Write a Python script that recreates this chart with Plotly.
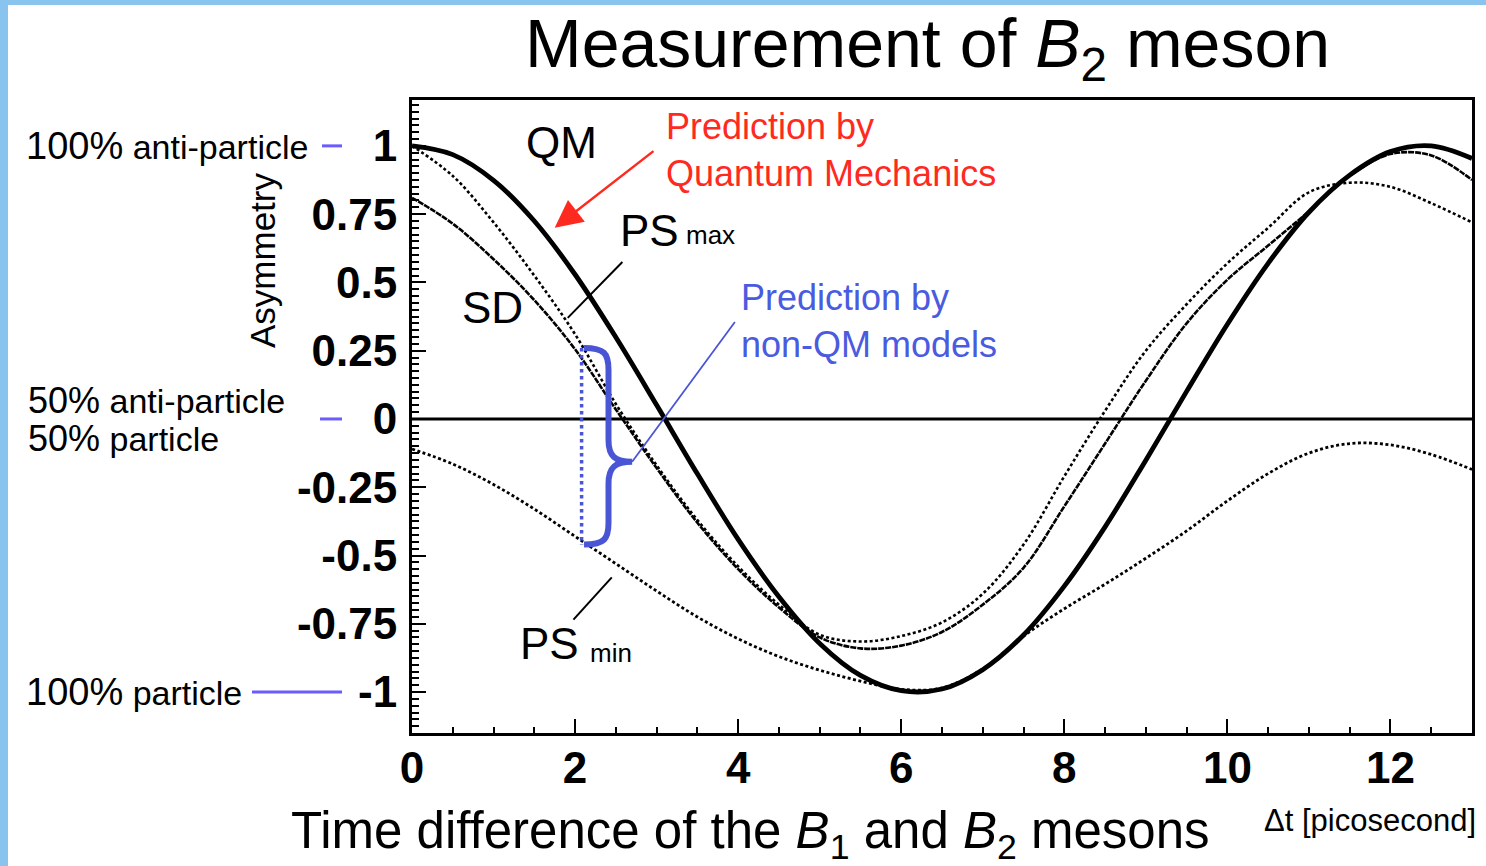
import plotly.graph_objects as go

# ---------------- data ----------------
t = [0, 0.5, 1, 1.5, 2, 2.5, 3, 3.5, 4, 4.5, 5, 5.5, 6, 6.5, 7, 7.5, 8, 8.5,
     9, 9.5, 10, 10.5, 11, 11.5, 12, 12.5, 13]

qm = [1.00, 0.968, 0.874, 0.725, 0.529, 0.299, 0.051, -0.201, -0.441, -0.651,
      -0.822, -0.939, -0.995, -0.989, -0.918, -0.791, -0.612, -0.395, -0.151,
      0.101, 0.347, 0.570, 0.757, 0.893, 0.979, 1.000, 0.954]

sd = [0.81, 0.715, 0.585, 0.435, 0.255, 0.035, -0.18, -0.38, -0.55, -0.69,
      -0.80, -0.84, -0.83, -0.78, -0.68, -0.545, -0.32, -0.09, 0.14,
      0.35, 0.51, 0.635, 0.76, 0.89, 0.97, 0.965, 0.875]

ps_max = [1.00, 0.89, 0.72, 0.525, 0.31, 0.055, -0.17, -0.37, -0.54, -0.68,
          -0.79, -0.815, -0.795, -0.745, -0.64, -0.46, -0.21, 0.03, 0.25,
          0.42, 0.57, 0.70, 0.83, 0.865, 0.85, 0.79, 0.72]

ps_min = [-0.11, -0.165, -0.24, -0.33, -0.43, -0.53, -0.63, -0.725, -0.805, -0.87,
          -0.92, -0.96, -0.99, -0.985, -0.915, -0.795, -0.695, -0.605, -0.51,
          -0.41, -0.30, -0.20, -0.125, -0.09, -0.095, -0.13, -0.185]

x_ticks = [0, 2, 4, 6, 8, 10, 12]
y_ticks = [1, 0.75, 0.5, 0.25, 0, -0.25, -0.5, -0.75, -1]
y_tick_text = ["1", "0.75", "0.5", "0.25", "0", "-0.25", "-0.5", "-0.75", "-1"]

# brace marking the spread of the non-QM predictions
brace_t = 2.08
brace_top = 0.26
brace_bot = -0.46
brace_tip = (2.70, -0.157)

# ---------------- layout geometry ----------------
W, H = 1486, 866
L, R, T, B = 412, 1472, 100, 733


def pxx(x):
    return (x - L) / (R - L)


def pxy(y):
    return (B - y) / (B - T)


FONT = "Liberation Sans, Arial, sans-serif"
BLUE_TXT = "#4a5be0"
BRACE = "#4a55d6"
TICK_BLUE = "#6a5cff"
RED = "#ff2a1f"

fig = go.Figure()

fig.add_trace(go.Scatter(x=t, y=ps_min, mode="lines", line=dict(color="black", width=2.8, dash="3px,2.5px", shape="spline"),
                         hoverinfo="skip", showlegend=False))
fig.add_trace(go.Scatter(x=t, y=ps_max, mode="lines", line=dict(color="black", width=2.6, dash="3px,2.5px", shape="spline"),
                         hoverinfo="skip", showlegend=False))
fig.add_trace(go.Scatter(x=t, y=sd, mode="lines", line=dict(color="black", width=2.6, dash="6px,1px", shape="spline"),
                         hoverinfo="skip", showlegend=False))
fig.add_trace(go.Scatter(x=t, y=qm, mode="lines", line=dict(color="black", width=4.8, shape="spline"),
                         hoverinfo="skip", showlegend=False))

shapes = []
# zero line
shapes.append(dict(type="line", xref="paper", yref="y", x0=0, x1=1, y0=0, y1=0,
                   line=dict(color="black", width=3)))
# light-blue page frame
shapes.append(dict(type="rect", xref="paper", yref="paper", x0=pxx(0), x1=pxx(8), y0=pxy(H), y1=pxy(0),
                   fillcolor="#89c4ee", line=dict(width=0), layer="above"))
shapes.append(dict(type="rect", xref="paper", yref="paper", x0=pxx(0), x1=pxx(W), y0=pxy(5), y1=pxy(0),
                   fillcolor="#89c4ee", line=dict(width=0), layer="above"))
# blue reference dashes next to the y tick labels
for y_val, x0, x1 in [(1, 322, 342), (0, 320, 342), (-1, 252, 342)]:
    shapes.append(dict(type="line", xref="paper", yref="y", x0=pxx(x0), x1=pxx(x1), y0=y_val, y1=y_val,
                       line=dict(color=TICK_BLUE, width=3)))
# label pointers
shapes.append(dict(type="line", xref="x", yref="y", x0=2.58, y0=0.575, x1=1.91, y1=0.37,
                   line=dict(color="black", width=2)))
shapes.append(dict(type="line", xref="x", yref="y", x0=2.45, y0=-0.58, x1=1.98, y1=-0.735,
                   line=dict(color="black", width=2)))
# blue dotted vertical
shapes.append(dict(type="line", xref="x", yref="y", x0=brace_t, x1=brace_t, y0=brace_top, y1=brace_bot,
                   line=dict(color=BRACE, width=3.5, dash="dot")))
# blue line from brace to the text
shapes.append(dict(type="line", xref="x", yref="y", x0=brace_tip[0], y0=brace_tip[1], x1=3.96, y1=0.355,
                   line=dict(color=BRACE, width=1.8)))
# curly brace
xs0 = brace_t + 0.03
xv = brace_t + 0.33
tx, ty = brace_tip
path = (f"M {xs0},{brace_top} "
        f"C {xv - 0.05},{brace_top} {xv},{brace_top - 0.02} {xv},{brace_top - 0.08} "
        f"L {xv},{ty + 0.08} "
        f"C {xv},{ty + 0.02} {xv + 0.08},{ty} {tx},{ty} "
        f"C {xv + 0.08},{ty} {xv},{ty - 0.02} {xv},{ty - 0.08} "
        f"L {xv},{brace_bot + 0.08} "
        f"C {xv},{brace_bot + 0.02} {xv - 0.05},{brace_bot} {xs0},{brace_bot}")
shapes.append(dict(type="path", xref="x", yref="y", path=path, line=dict(color=BRACE, width=6)))

ann = []


def text(x, y, s, size, color="black", xanchor="left", yanchor="middle", **kw):
    ann.append(dict(x=pxx(x), y=pxy(y), xref="paper", yref="paper", text=s, showarrow=False,
                    xanchor=xanchor, yanchor=yanchor, align=xanchor if xanchor != "center" else "center",
                    font=dict(family=FONT, size=size, color=color), **kw))


text(927, 48, "Measurement of <i>B</i><sub>2</sub> meson", 68, xanchor="center")
text(524, 143, "QM", 44)
text(618, 230, "PS", 44)
text(684, 235, "max", 26)
text(460, 307, "SD", 44)
text(518, 643, "PS", 44)
text(588, 653, "min", 26)
text(664, 150, "Prediction by<br>Quantum Mechanics", 36, color=RED)
text(739, 321, "Prediction by<br>non-QM models", 36, color=BLUE_TXT)
text(24, 146, "100%<span style='font-size:34px'> anti-particle</span>", 38)
text(26, 401, "50%<span style='font-size:34px'> anti-particle</span>", 36)
text(26, 438, "50%<span style='font-size:34px'> particle</span>", 36)
text(24, 692, "100%<span style='font-size:34px'> particle</span>", 38)
text(262, 260, "Asymmetry", 35, xanchor="center", textangle=-90)
text(750, 834, "Time difference of the <i>B</i><sub>1</sub> and <i>B</i><sub>2</sub> mesons", 51, xanchor="center")
text(1262, 820, "Δt [picosecond]", 31)

# red arrow to QM curve
ann.append(dict(x=1.75, y=0.70, ax=2.98, ay=0.985, xref="x", yref="y", axref="x", ayref="y",
                text="", showarrow=True, arrowhead=2, arrowsize=2.2, arrowwidth=2.5, arrowcolor=RED))

fig.update_layout(
    width=W, height=H,
    margin=dict(l=L, r=W - R, t=T, b=H - B, autoexpand=False),
    paper_bgcolor="white", plot_bgcolor="white",
    shapes=shapes, annotations=ann,
    font=dict(family=FONT, color="black"),
    xaxis=dict(range=[0, 13], showgrid=False, zeroline=False,
               showline=True, linecolor="black", linewidth=3, mirror=True,
               tickmode="array", tickvals=x_ticks, ticks="inside", ticklen=14, tickwidth=2, tickcolor="black",
               tickfont=dict(family=FONT, size=44, color="black", weight="bold"),
               minor=dict(dtick=0.5, tick0=0, ticks="inside", ticklen=6, tickwidth=2, tickcolor="black"),
               ticklabelstandoff=-6),
    yaxis=dict(range=[-1.150, 1.168], showgrid=False, zeroline=False,
               showline=True, linecolor="black", linewidth=3, mirror=True,
               tickmode="array", tickvals=y_ticks, ticktext=y_tick_text,
               ticks="inside", ticklen=14, tickwidth=2, tickcolor="black",
               tickfont=dict(family=FONT, size=44, color="black", weight="bold"),
               minor=dict(dtick=0.025, tick0=0, ticks="inside", ticklen=7, tickwidth=1.5, tickcolor="black"),
               ticklabelstandoff=3),
)

fig.write_html("out.html")
